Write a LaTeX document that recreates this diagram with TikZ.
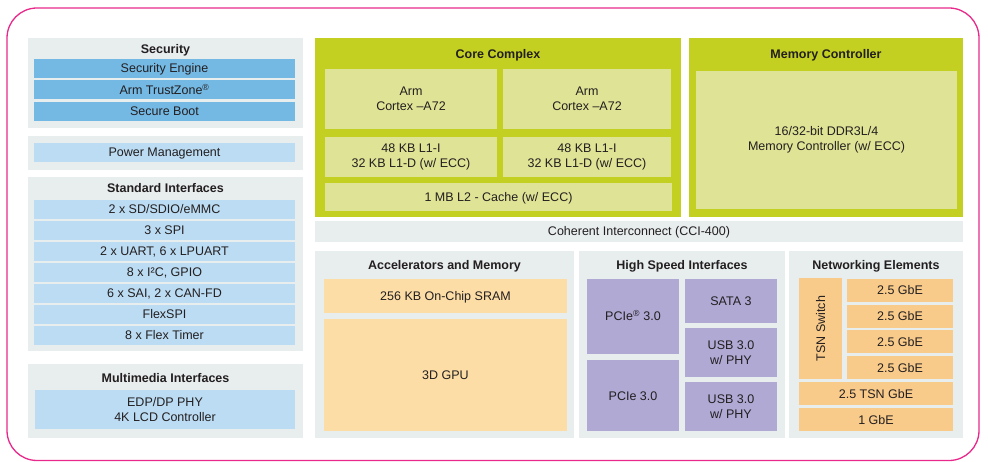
\documentclass[tikz,border=0pt]{standalone}
\usepackage{fontspec}
\setmainfont{Liberation Sans}
\usetikzlibrary{positioning}
\definecolor{framepink}{HTML}{E8288A}
\definecolor{panelgray}{HTML}{E8EDEE}
\definecolor{secblue}{HTML}{74B8E4}
\definecolor{ifblue}{HTML}{BBDCF3}
\definecolor{lime}{HTML}{C4D021}
\definecolor{palelime}{HTML}{DFE395}
\definecolor{sand}{HTML}{FDDDA6}
\definecolor{apricot}{HTML}{F9CB8B}
\definecolor{lavender}{HTML}{AFA9D4}
\definecolor{txt}{HTML}{231F20}

\begin{document}
\begin{tikzpicture}[x=1pt, y=-1pt, font=\fontsize{12.5}{15}\selectfont]
			% styles
			\tikzstyle{panel} = [anchor=north west, inner sep=0pt, outer sep=0pt, fill=panelgray]
			\tikzstyle{box} = [anchor=north west, inner sep=0pt, outer sep=0pt, align=center, text=txt]
			\tikzstyle{oneline} = [text height=9pt, text depth=0pt]
			\tikzstyle{title} = [oneline, font=\fontsize{12.5}{15}\selectfont\bfseries, text=txt]
			\tikzstyle{secbar} = [box, oneline, fill=secblue, minimum width=261pt, minimum height=19pt]
			\tikzstyle{ifbar} = [box, oneline, fill=ifblue, minimum width=261pt, minimum height=19pt]
			\tikzstyle{core} = [box, fill=palelime]
			\tikzstyle{mem} = [box, oneline, fill=sand, minimum width=243pt]
			\tikzstyle{hsi} = [box, fill=lavender, minimum width=92pt]
			\tikzstyle{gbe} = [box, oneline, fill=apricot, minimum height=23pt]
			
			\useasboundingbox (0,0) rectangle (988,462);
			\draw [framepink, line width=1.3pt, rounded corners=30pt] (7,8) rectangle (979,460.5);
			
			% left column
			\node [panel, minimum width=275pt, minimum height=90pt] (security) at (28,38) {};
			\node [title] (sectitle) at (165.5,49.5) {Security};
			\node [secbar] (seceng) at (34,59) {Security Engine};
			\node [secbar, below=2.5pt of seceng] (trustzone) {Arm TrustZone\textsuperscript{®}};
			\node [secbar, below=2.5pt of trustzone] (secboot) {Secure Boot};
			
			\node [panel, minimum width=275pt, minimum height=34pt] (power) at (28,136) {};
			\node [ifbar] (powermgmt) at (34,143) {Power Management};
			
			\node [panel, minimum width=275pt, minimum height=174pt] (stdif) at (28,177) {};
			\node [title] (stdtitle) at (165.5,188) {Standard Interfaces};
			\node [ifbar] (sdio) at (34,200) {2 x SD/SDIO/eMMC};
			\node [ifbar, below=2pt of sdio] (spi) {3 x SPI};
			\node [ifbar, below=2pt of spi] (uart) {2 x UART, 6 x LPUART};
			\node [ifbar, below=2pt of uart] (itwoc) {8 x I²C, GPIO};
			\node [ifbar, below=2pt of itwoc] (sai) {6 x SAI, 2 x CAN-FD};
			\node [ifbar, below=2pt of sai] (flexspi) {FlexSPI};
			\node [ifbar, below=2pt of flexspi] (flextimer) {8 x Flex Timer};
			
			\node [panel, minimum width=275pt, minimum height=74pt] (media) at (28,364) {};
			\node [title] (mediatitle) at (165.5,377.5) {Multimedia Interfaces};
			\node [box, fill=ifblue, minimum width=260pt, minimum height=39pt] (lcd) at (35,390) {EDP/DP PHY\\4K LCD Controller};
			
			% core complex and memory controller
			\node [panel, fill=lime, minimum width=366pt, minimum height=179pt] (corecplx) at (315,38) {};
			\node [title] (coretitle) at (498,54) {Core Complex};
			\node [core, minimum width=172pt, minimum height=60pt] (armA) at (325,69) {Arm\\Cortex –A72};
			\node [core, minimum width=168pt, minimum height=60pt] (armB) at (503,69) {Arm\\Cortex –A72};
			\node [core, minimum width=172pt, minimum height=40pt] (lonea) at (325,137) {48 KB L1-I\\32 KB L1-D (w/ ECC)};
			\node [core, minimum width=168pt, minimum height=40pt] (loneb) at (503,137) {48 KB L1-I\\32 KB L1-D (w/ ECC)};
			\node [core, oneline, minimum width=347pt, minimum height=28pt] (ltwo) at (325,183) {1 MB L2 - Cache (w/ ECC)};
			
			\node [panel, fill=lime, minimum width=274pt, minimum height=179pt] (memctrl) at (689,38) {};
			\node [title] (memtitle) at (826,54.5) {Memory Controller};
			\node [core, minimum width=261pt, minimum height=138pt] (ddr) at (696,71) {16/32-bit DDR3L/4\\Memory Controller (w/ ECC)};
			
			\node [box, oneline, fill=panelgray, minimum width=648pt, minimum height=21pt] (cci) at (315,221) {Coherent Interconnect (CCI-400)};
			
			% accelerators and memory
			\node [panel, minimum width=259pt, minimum height=187pt] (accel) at (315,251) {};
			\node [title] (acceltitle) at (444.5,265) {Accelerators and Memory};
			\node [mem, minimum height=34pt] (sram) at (324,279) {256 KB On-Chip SRAM};
			\node [mem, minimum height=112pt] (gpu) at (324,319) {3D GPU};
			
			% high speed interfaces
			\node [panel, minimum width=206pt, minimum height=187pt] (hsif) at (579,251) {};
			\node [title] (hstitle) at (682,265) {High Speed Interfaces};
			\node [hsi, oneline, minimum height=75pt] (pcieA) at (587,279) {PCIe\textsuperscript{®} 3.0};
			\node [hsi, oneline, minimum height=71pt] (pcieB) at (587,360) {PCIe 3.0};
			\node [hsi, oneline, minimum height=44pt] (sata) at (685,279) {SATA 3};
			\node [hsi, minimum height=49pt] (usbA) at (685,328) {USB 3.0\\w/ PHY};
			\node [hsi, minimum height=49pt] (usbB) at (685,382) {USB 3.0\\w/ PHY};
			
			% networking elements
			\node [panel, minimum width=174pt, minimum height=187pt] (net) at (789,251) {};
			\node [title] (nettitle) at (876,265) {Networking Elements};
			\node [box, oneline, anchor=center, fill=apricot, rotate=90, minimum width=101pt, minimum height=43pt] (tsnsw) at (820.5,328.5) {TSN Switch};
			\node [gbe, minimum width=106pt] (gbeA) at (847,279) {2.5 GbE};
			\node [gbe, minimum width=106pt, below=2.7pt of gbeA] (gbeB) {2.5 GbE};
			\node [gbe, minimum width=106pt, below=2.7pt of gbeB] (gbeC) {2.5 GbE};
			\node [gbe, minimum width=106pt, below=2.7pt of gbeC] (gbeD) {2.5 GbE};
			\node [gbe, minimum width=154pt] (tsngbe) at (799,382) {2.5 TSN GbE};
			\node [gbe, minimum width=154pt, below=3pt of tsngbe] (onegbe) {1 GbE};
		\end{tikzpicture}
\end{document}
